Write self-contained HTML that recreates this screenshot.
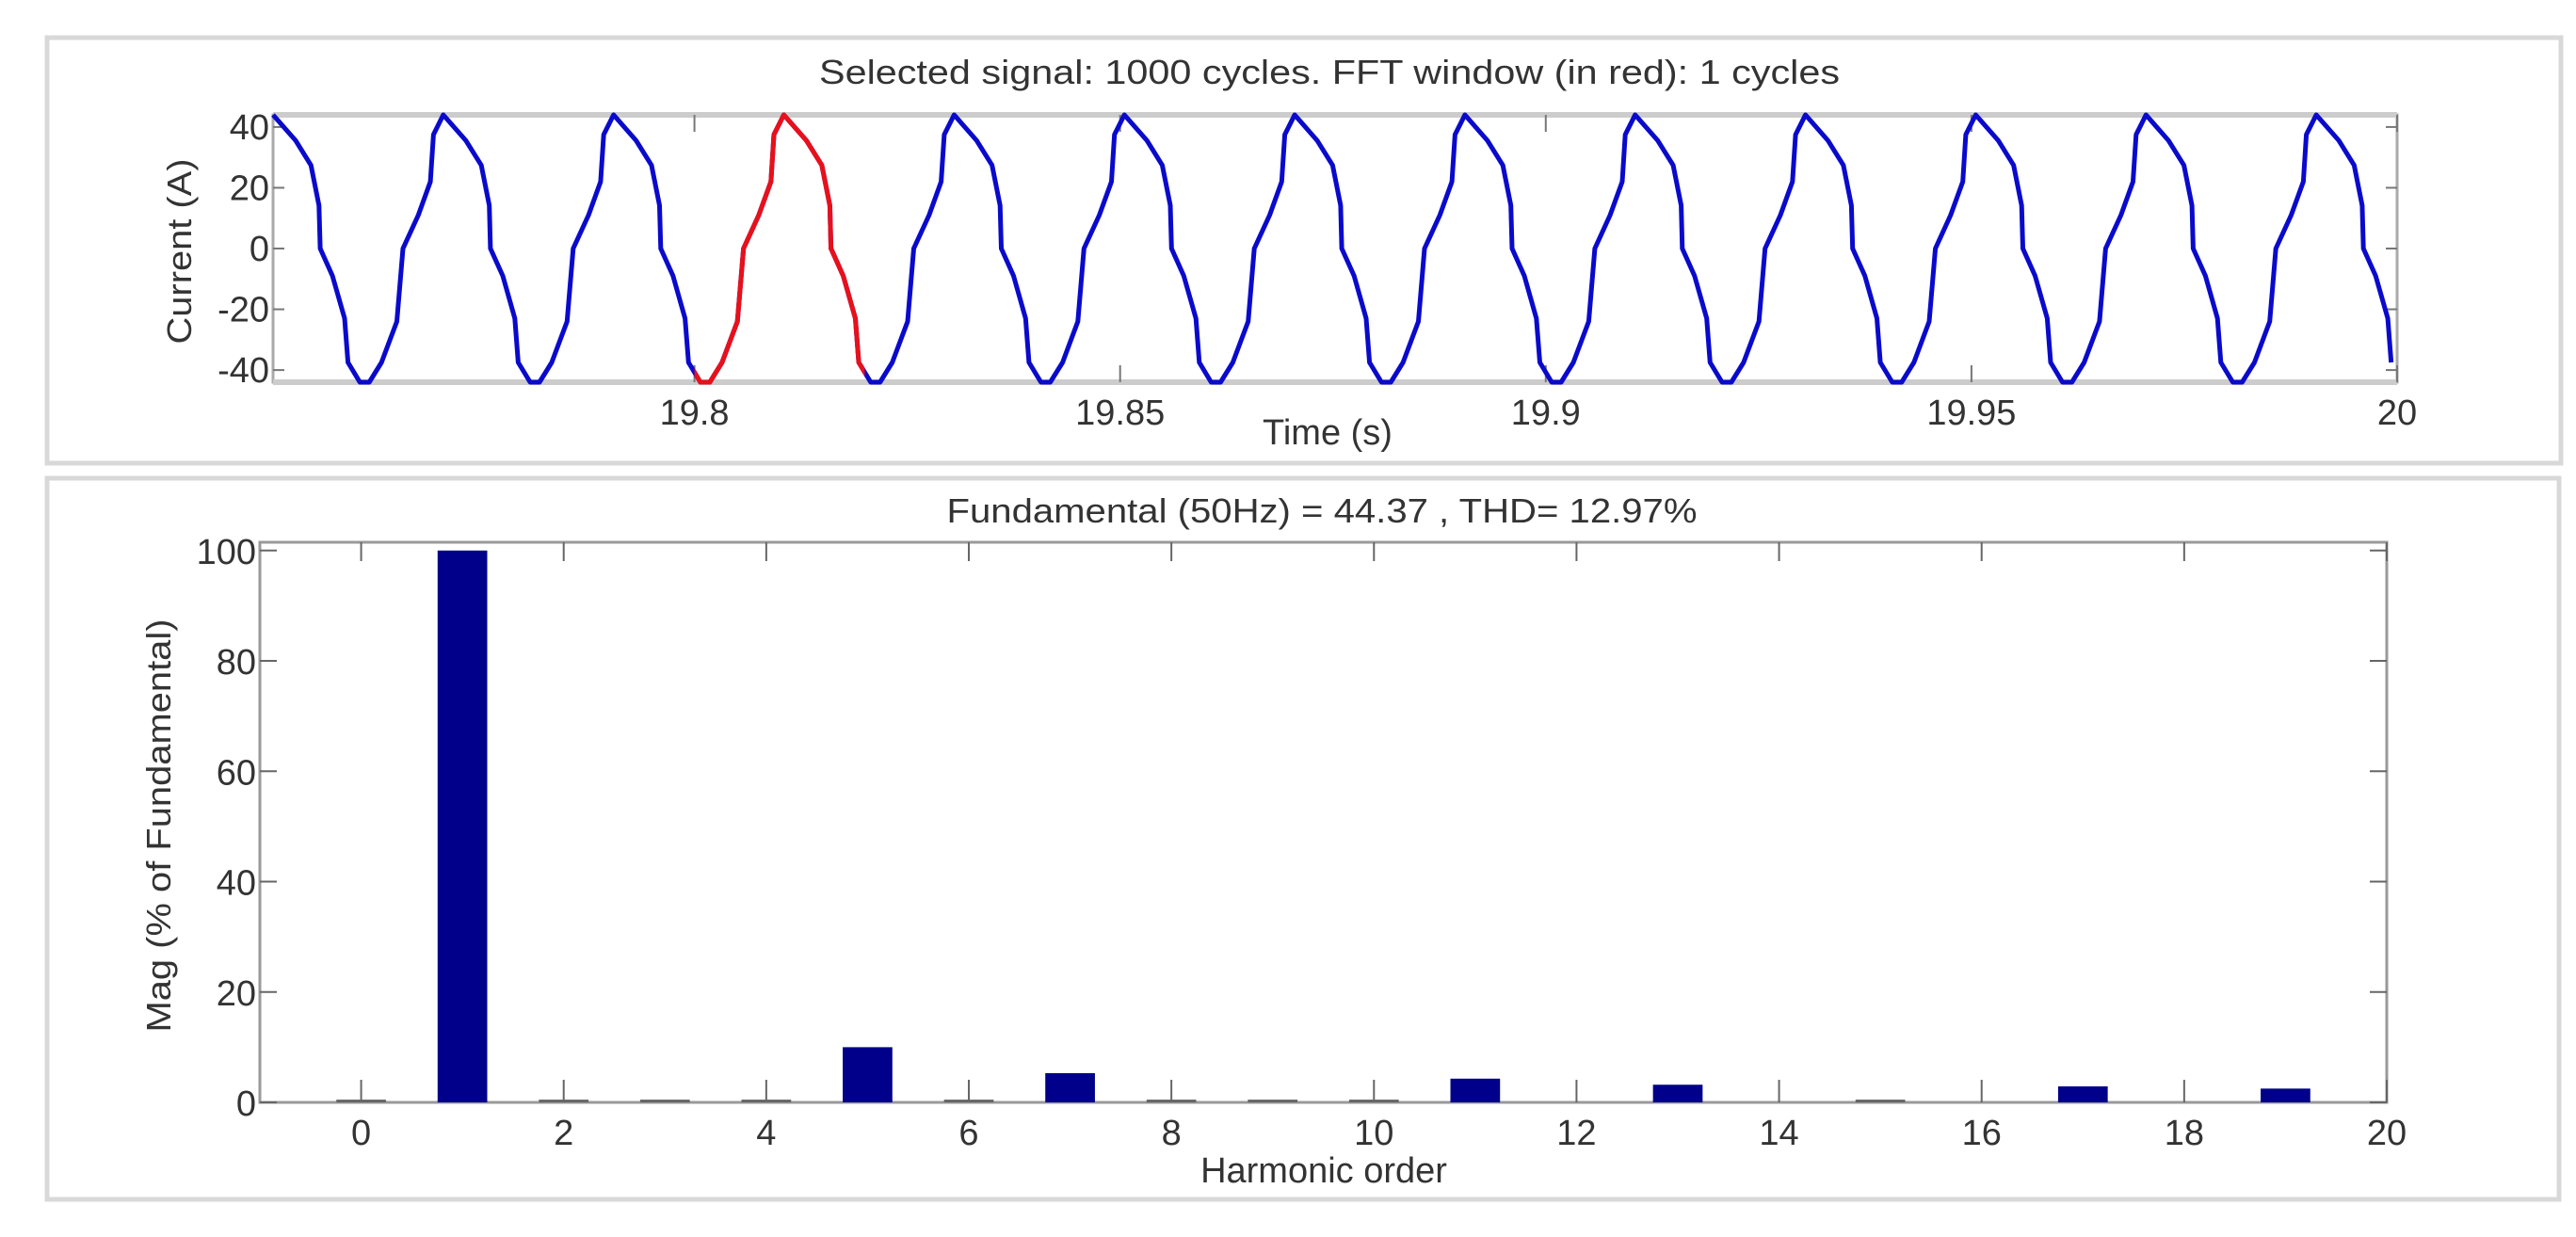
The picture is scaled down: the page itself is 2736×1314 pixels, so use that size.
<!DOCTYPE html>
<html><head><meta charset="utf-8"><style>
html,body{margin:0;padding:0;background:#fff;}
svg{display:block;font-family:"Liberation Sans",sans-serif;}
</style></head><body>
<svg id="fig" width="2736" height="1314" viewBox="0 0 2736 1314" xmlns="http://www.w3.org/2000/svg">
<rect x="50" y="40" width="2670" height="452" fill="#fff" stroke="#d8d8d8" stroke-width="5"/>
<rect x="50" y="508" width="2668" height="766" fill="#fff" stroke="#d8d8d8" stroke-width="5"/>
<text x="1412" y="89" font-size="36" text-anchor="middle" fill="#333" textLength="1084" lengthAdjust="spacingAndGlyphs">Selected signal: 1000 cycles. FFT window (in red): 1 cycles</text>
<text x="1410" y="472" font-size="38" text-anchor="middle" fill="#333">Time (s)</text>
<text transform="translate(203,267) rotate(-90)" font-size="36" text-anchor="middle" fill="#333" textLength="197" lengthAdjust="spacingAndGlyphs">Current (A)</text>
<text x="1404" y="555" font-size="36" text-anchor="middle" fill="#333" textLength="797" lengthAdjust="spacingAndGlyphs">Fundamental (50Hz) = 44.37 , THD= 12.97%</text>
<text x="1406" y="1256" font-size="38" text-anchor="middle" fill="#333">Harmonic order</text>
<text transform="translate(181,877) rotate(-90)" font-size="36" text-anchor="middle" fill="#333" textLength="439" lengthAdjust="spacingAndGlyphs">Mag (% of Fundamental)</text>
<g id="topG"></g>
<g id="botG"></g>
</svg>
<script>
// ---- signal data ----
const cyclePhase = [0, 0.133, 0.223, 0.27, 0.277, 0.349, 0.42, 0.44, 0.51, 0.565, 0.637, 0.727, 0.763, 0.853, 0.924, 0.942, 1.0];
const cycleCurrent = [44, 35.5, 27.4, 14.2, 0, -9, -23, -37.5, -44, -44, -37.5, -24, 0, 11, 22, 37.5, 44];
const timeTicks = [19.8, 19.85, 19.9, 19.95, 20];
const timeTickLabels = ["19.8", "19.85", "19.9", "19.95", "20"];
const currentTicks = [-40, -20, 0, 20, 40];
const fftWindow = [19.8, 19.82];
// ---- harmonic data ----
const harmonics = [0,1,2,3,4,5,6,7,8,9,10,11,12,13,14,15,16,17,18,19];
const magnitudes = [0.5,100,0.5,0.5,0.5,10,0.5,5.3,0.5,0.5,0.5,4.3,0,3.2,0,0.5,0,2.9,0,2.5];
const harmTicks = [0,2,4,6,8,10,12,14,16,18,20];
const magTicks = [0,20,40,60,80,100];

const NS = "http://www.w3.org/2000/svg";
function mk(parent, tag, attrs){ const e=document.createElementNS(NS,tag); for(const k in attrs) e.setAttribute(k,attrs[k]); parent.appendChild(e); return e; }

// top axes
const T = {l:290, r:2546, t:122, b:406, x0:19.7505, x1:20, y0:-44, y1:44};
const tx = v => T.l + (v - T.x0)/(T.x1 - T.x0)*(T.r - T.l);
const ty = v => T.b - (v - T.y0)/(T.y1 - T.y0)*(T.b - T.t);
const topG = document.getElementById('topG');
const period = 0.02;
function wavePoints(tStart, tEnd){
  const pts=[];
  for(let k=0;k<14;k++){
    for(let i=0;i<cyclePhase.length;i++){
      const t = T.x0 + (k + cyclePhase[i])*period;
      if(t>=tStart-1e-9 && t<=tEnd+1e-9) pts.push(tx(t).toFixed(1)+','+ty(cycleCurrent[i]).toFixed(1));
    }
  }
  return pts;
}
const frameTop = mk(topG,'rect',{x:T.l,y:T.t,width:T.r-T.l,height:T.b-T.t,fill:'none',stroke:'#aaa','stroke-width':3});


mk(topG,'line',{x1:T.l,y1:T.t,x2:T.r,y2:T.t,stroke:'#ccc','stroke-width':6});
mk(topG,'line',{x1:T.l,y1:T.b,x2:T.r,y2:T.b,stroke:'#ccc','stroke-width':6});
timeTicks.forEach((v,i)=>{
  const x=tx(v);
  mk(topG,'line',{x1:x,y1:T.b,x2:x,y2:T.b-18,stroke:'#777','stroke-width':2});
  mk(topG,'line',{x1:x,y1:T.t,x2:x,y2:T.t+18,stroke:'#777','stroke-width':2});
  const lb=mk(topG,'text',{x:x,y:451,'font-size':38,'text-anchor':'middle',fill:'#333'});
  lb.textContent=timeTickLabels[i];
  
  
});
currentTicks.forEach(v=>{
  const y=ty(v);
  mk(topG,'line',{x1:T.l,y1:y,x2:T.l+12,y2:y,stroke:'#777','stroke-width':2});
  mk(topG,'line',{x1:T.r,y1:y,x2:T.r-12,y2:y,stroke:'#777','stroke-width':2});
  const lb=mk(topG,'text',{x:T.l-4,y:y+13,'font-size':38,'text-anchor':'end',fill:'#333'});
  lb.textContent=String(v);
  
  
});
const blue = mk(topG,'polyline',{points:wavePoints(T.x0,T.x1).join(' '),fill:'none',stroke:'#0a0acc','stroke-width':5,'stroke-linejoin':'round'});


const clipEl = mk(topG,'clipPath',{id:'win'});
mk(clipEl,'rect',{x:tx(fftWindow[0]),y:0,width:tx(fftWindow[1])-tx(fftWindow[0]),height:500});
const red = mk(topG,'polyline',{points:wavePoints(T.x0,T.x1).join(' '),fill:'none',stroke:'#e8101a','stroke-width':5,'stroke-linejoin':'round','clip-path':'url(#win)'});



// bottom axes
const B = {l:276, r:2535, t:576, b:1171, x0:-1, x1:20, y0:0, y1:101.5};
const bx = v => B.l + (v - B.x0)/(B.x1 - B.x0)*(B.r - B.l);
const by = v => B.b - (v - B.y0)/(B.y1 - B.y0)*(B.b - B.t);
const botG = document.getElementById('botG');
const frameB = mk(botG,'rect',{x:B.l,y:B.t,width:B.r-B.l,height:B.b-B.t,fill:'none',stroke:'#999','stroke-width':3});


harmTicks.forEach(v=>{
  const x=bx(v);
  mk(botG,'line',{x1:x,y1:B.b,x2:x,y2:B.b-24,stroke:'#666','stroke-width':2});
  mk(botG,'line',{x1:x,y1:B.t,x2:x,y2:B.t+20,stroke:'#666','stroke-width':2});
  const lb=mk(botG,'text',{x:x,y:1216,'font-size':38,'text-anchor':'middle',fill:'#333'});
  lb.textContent=String(v);
  
  
});
magTicks.forEach(v=>{
  const y=by(v);
  mk(botG,'line',{x1:B.l,y1:y,x2:B.l+18,y2:y,stroke:'#666','stroke-width':2});
  mk(botG,'line',{x1:B.r,y1:y,x2:B.r-18,y2:y,stroke:'#666','stroke-width':2});
  const lb=mk(botG,'text',{x:B.l-4,y:y+14,'font-size':38,'text-anchor':'end',fill:'#333'});
  lb.textContent=String(v);
  
  
});
const bw = 0.49*(B.r-B.l)/(B.x1-B.x0);
harmonics.forEach((h,i)=>{
  const m = magnitudes[i];
  if(m<=0) return;
  const y = by(m);
  const small = m < 1;
  const r = mk(botG,'rect',{x:bx(h)-bw/2,y:y,width:bw,height:B.b-y,fill:small?'#666':'#00008a'});
  
  
});
</script>
</body></html>
